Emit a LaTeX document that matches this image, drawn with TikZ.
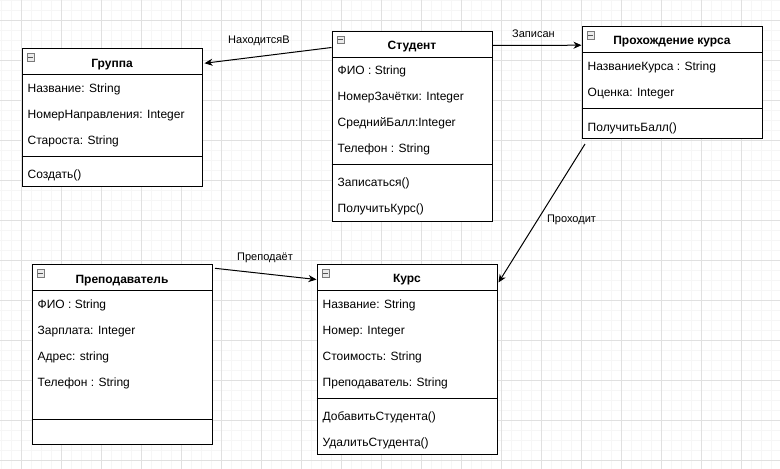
\documentclass[tikz,border=0pt]{standalone}
\usepackage{fontspec}
\setmainfont{Liberation Sans}
\usetikzlibrary{arrows.meta,calc}
\definecolor{gridmajor}{HTML}{E0E0E0}
\definecolor{gridminor}{HTML}{F6F6F6}
\definecolor{iconfill}{HTML}{EBEBEB}
\definecolor{iconline}{HTML}{7A7A7A}
\tikzset{
  classbox/.style={draw, fill=white, line width=1pt, inner sep=0pt, anchor=north west},
  classhead/.style={draw, line width=1pt, inner sep=0pt, anchor=north west, minimum height=26pt,
    font=\bfseries\fontsize{12}{14}\selectfont, text height=10.6pt, text depth=0pt},
  attr/.style={anchor=west, inner sep=0pt, yshift=-0.8pt, font=\fontsize{12}{14}\selectfont, text height=8.6pt, text depth=0pt},
  sepline/.style={line width=1pt},
  icon/.style={draw=iconline, fill=iconfill, line width=0.6pt, minimum size=7.5pt, inner sep=0pt, anchor=north west},
  iconbar/.style={draw=iconline!70!black, line width=0.8pt},
  lbl/.style={inner sep=0pt, font=\fontsize{11}{13}\selectfont},
  assoc/.style={line width=1pt, -{Stealth[length=8pt,width=7pt,inset=2.5pt]}},
  gmin/.style={draw=gridminor, line width=0.8pt},
  gmaj/.style={draw=gridmajor, line width=0.8pt}
}
\begin{document}
\begin{tikzpicture}[x=1pt,y=-1pt]
\useasboundingbox (0,0) rectangle (780,469);
\fill[white] (0,0) rectangle (780,469);
% grid
\foreach \i in {1,11,...,771} \draw[gmin] (\i,0) -- (\i,469);
\foreach \j in {0.7,10.7,...,460.7} \draw[gmin] (0,\j) -- (780,\j);
\foreach \i in {21,61,...,741} \draw[gmaj] (\i,0) -- (\i,469);
\foreach \j in {20.7,60.7,...,460.7} \draw[gmaj] (0,\j) -- (780,\j);

% ---------- Группа ----------
\node[classbox, minimum width=180pt, minimum height=138pt] (grp) at (21.5,48.3) {};
\node[classhead, minimum width=180pt] (grph) at (21.5,48.3) {Группа};
\draw[sepline] (grp.west |- 0,156.3) -- (grp.east |- 0,156.3);
\node[icon] (grpi) at (26.5,53.3) {};
\draw[iconbar] ([xshift=1.5pt]grpi.west) -- ([xshift=-1.5pt]grpi.east);
\node[attr] (grpa1) at (27.5,87.3) {Название: String};
\node[attr] (grpa2) at (27.5,113.3) {НомерНаправления: Integer};
\node[attr] (grpa3) at (27.5,139.3) {Староста: String};
\node[attr] (grpm1) at (27.5,173.3) {Создать()};

% ---------- Студент ----------
\node[classbox, minimum width=160pt, minimum height=190pt] (stu) at (331.5,30.7) {};
\node[classhead, minimum width=160pt] (stuh) at (331.5,30.7) {Студент};
\draw[sepline] (stu.west |- 0,164.7) -- (stu.east |- 0,164.7);
\node[icon] (stui) at (336.5,35.7) {};
\draw[iconbar] ([xshift=1.5pt]stui.west) -- ([xshift=-1.5pt]stui.east);
\node[attr] (stua1) at (337.5,69.7) {ФИО : String};
\node[attr] (stua2) at (337.5,95.7) {НомерЗачётки: Integer};
\node[attr] (stua3) at (337.5,121.7) {СреднийБалл:Integer};
\node[attr] (stua4) at (337.5,147.7) {Телефон : String};
\node[attr] (stum1) at (337.5,181.7) {Записаться()};
\node[attr] (stum2) at (337.5,207.7) {ПолучитьКурс()};

% ---------- Прохождение курса ----------
\node[classbox, minimum width=180pt, minimum height=112pt] (pro) at (581.5,26) {};
\node[classhead, minimum width=180pt] (proh) at (581.5,26) {Прохождение курса};
\draw[sepline] (pro.west |- 0,108) -- (pro.east |- 0,108);
\node[icon] (proi) at (586.5,31) {};
\draw[iconbar] ([xshift=1.5pt]proi.west) -- ([xshift=-1.5pt]proi.east);
\node[attr] (proa1) at (587.5,65) {НазваниеКурса : String};
\node[attr] (proa2) at (587.5,91) {Оценка: Integer};
\node[attr] (prom1) at (587.5,126) {ПолучитьБалл()};

% ---------- Преподаватель ----------
\node[classbox, minimum width=180pt, minimum height=179.7pt] (pre) at (31.5,264.3) {};
\node[classhead, minimum width=180pt] (preh) at (31.5,264.3) {Преподаватель};
\draw[sepline] (pre.west |- 0,419.3) -- (pre.east |- 0,419.3);
\node[icon] (prei) at (36.5,269.3) {};
\draw[iconbar] ([xshift=1.5pt]prei.west) -- ([xshift=-1.5pt]prei.east);
\node[attr] (prea1) at (37.5,303.3) {ФИО : String};
\node[attr] (prea2) at (37.5,329.3) {Зарплата: Integer};
\node[attr] (prea3) at (37.5,355.3) {Адрес: string};
\node[attr] (prea4) at (37.5,381.3) {Телефон : String};

% ---------- Курс ----------
\node[classbox, minimum width=180pt, minimum height=190pt] (kur) at (316.5,264) {};
\node[classhead, minimum width=180pt] (kurh) at (316.5,264) {Курс};
\draw[sepline] (kur.west |- 0,398) -- (kur.east |- 0,398);
\node[icon] (kuri) at (321.5,269) {};
\draw[iconbar] ([xshift=1.5pt]kuri.west) -- ([xshift=-1.5pt]kuri.east);
\node[attr] (kura1) at (322.5,303) {Название: String};
\node[attr] (kura2) at (322.5,329) {Номер: Integer};
\node[attr] (kura3) at (322.5,355) {Стоимость: String};
\node[attr] (kura4) at (322.5,381) {Преподаватель: String};
\node[attr] (kurm1) at (322.5,415) {ДобавитьСтудента()};
\node[attr] (kurm2) at (322.5,441) {УдалитьСтудента()};

% ---------- connectors ----------
\draw[assoc, shorten >=2pt] ([yshift=-3.3pt]stuh.west) -- ([yshift=-1.7pt]grph.east);
\draw[assoc] ([yshift=-1.3pt]stuh.east) -- ([yshift=-5.7pt]proh.west);
\draw[assoc] ([xshift=3.5pt,yshift=-5pt]pro.south west) -- ([xshift=1pt,yshift=-5pt]kurh.east);
\draw[assoc] ([xshift=2.5pt,yshift=-4pt]pre.north east) -- ([yshift=-2pt]kurh.west);

% ---------- labels ----------
\node[lbl] (l1) at (259,41) {НаходитсяВ};
\node[lbl] (l2) at (533.5,34) {Записан};
\node[lbl] (l3) at (571.5,219.5) {Проходит};
\node[lbl] (l4) at (265,258.3) {Преподаёт};
\end{tikzpicture}
\end{document}
